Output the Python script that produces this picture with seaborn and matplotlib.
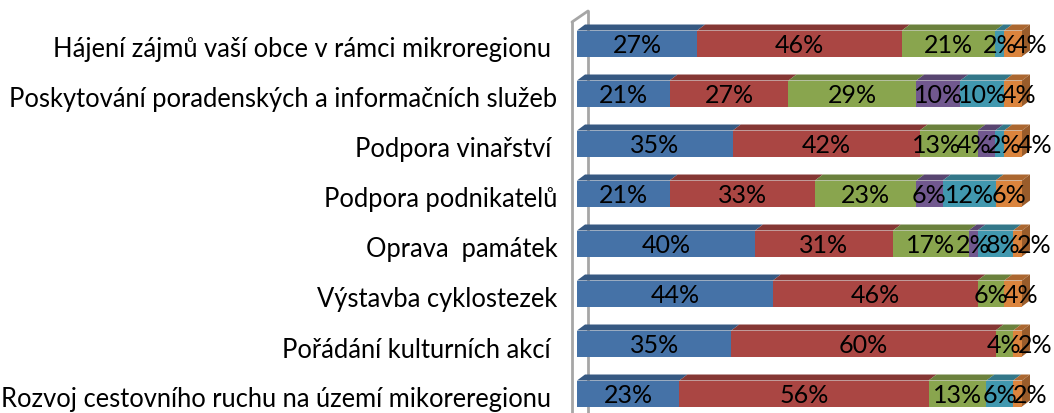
import numpy as np
import pandas as pd
import matplotlib
matplotlib.use("Agg")
import matplotlib.pyplot as plt
import matplotlib.transforms as mtransforms
import seaborn as sns
from matplotlib.patches import Polygon
from matplotlib.colors import to_rgb

# Data (shares in %)
categories = [
    "Hájení zájmů vaší obce v rámci mikroregionu ",
    "Poskytování poradenských a informačních služeb",
    "Podpora vinařství ",
    "Podpora podnikatelů",
    "Oprava  památek",
    "Výstavba cyklostezek",
    "Pořádání kulturních akcí ",
    "Rozvoj cestovního ruchu na území mikoreregionu ",
]
s1 = [27, 21, 35, 21, 40, 44, 35, 23]
s2 = [46, 27, 42, 33, 31, 46, 60, 56]
s3 = [21, 29, 13, 23, 17, 6, 4, 13]
s4 = [0, 10, 4, 6, 2, 0, 0, 0]
s5 = [2, 10, 2, 12, 8, 0, 0, 6]
s6 = [4, 4, 4, 6, 2, 4, 2, 2]

colors = ["#4572A7", "#AA4643", "#89A54E", "#71588F", "#4198AF", "#DB843D"]

series = [s1, s2, s3, s4, s5, s6]
vals = np.array(series, dtype=float)
# 100% stacked
vals = vals / vals.sum(axis=0) * 100
cum = np.cumsum(vals, axis=0)
left = cum - vals

sns.set_style("white")
plt.rcParams["font.family"] = ["Lato", "DejaVu Sans"]

fig = plt.figure(figsize=(10.54, 4.14), dpi=100)
W, H = 1054, 414
x0, x1 = 577, 1022          # pixel extent of 0..100
y_top, row_px = 19.5, 50.0  # pixel of y=-0.5, pixels per row
ax = fig.add_axes([x0 / W, 0, (x1 - x0) / W, (H - y_top) / H])

bar_h = 0.52
# draw from the full stack down so earlier segments sit on top
for j in range(len(series) - 1, -1, -1):
    df = pd.DataFrame({"cat": categories, "val": cum[j]})
    sns.barplot(data=df, x="val", y="cat", order=categories, orient="h",
                color=colors[j], saturation=1, width=bar_h, ax=ax,
                linewidth=0, zorder=3)

ax.set_xlim(0, 100)
ylow = -0.5 + (H - y_top) / row_px
ax.set_ylim(ylow, -0.5)

# 3D look: top faces and right-side faces
dx = 8 * 100 / (x1 - x0)
dy = 6 / row_px


def shade(c, f):
    r, g, b = to_rgb(c)
    return (r * f, g * f, b * f)


for i in range(len(categories)):
    yt = i - bar_h / 2
    yb = i + bar_h / 2
    for j in range(len(series)):
        if vals[j, i] <= 0:
            continue
        l, r = left[j, i], cum[j, i]
        ax.add_patch(Polygon([(l, yt), (r, yt), (r + dx, yt - dy), (l + dx, yt - dy)],
                             closed=True, facecolor=shade(colors[j], 0.78),
                             edgecolor="none", zorder=4, clip_on=False))
    last = max(j for j in range(len(series)) if vals[j, i] > 0)
    r = cum[last, i]
    ax.add_patch(Polygon([(r, yt), (r + dx, yt - dy), (r + dx, yb - dy), (r, yb)],
                         closed=True, facecolor=shade(colors[last], 0.7),
                         edgecolor="none", zorder=4, clip_on=False))

# percentage labels, centred on segments, then nudged apart so they don't collide
row_texts = []
for i in range(len(categories)):
    texts = []
    for j in range(len(series)):
        v = series[j][i]
        if v <= 0:
            continue
        t = ax.text(left[j, i] + vals[j, i] / 2, i + 0.02, f"{v}%",
                    ha="center", va="center", fontsize=18, color="black",
                    zorder=6, clip_on=False)
        texts.append(t)
    row_texts.append(texts)

fig.canvas.draw()
renderer = fig.canvas.get_renderer()
px_to_x = 100 / (x1 - x0)
right_limit = (1050 - x0) * px_to_x
for texts in row_texts:
    widths = [t.get_window_extent(renderer).width * px_to_x * 0.88 for t in texts]
    starts = [t.get_position()[0] - w / 2 for t, w in zip(texts, widths)]
    # forward pass: push right
    for k in range(1, len(texts)):
        starts[k] = max(starts[k], starts[k - 1] + widths[k - 1])
    # backward pass: keep inside the figure, push left
    limit = right_limit
    for k in range(len(texts) - 1, -1, -1):
        starts[k] = min(starts[k], limit - widths[k])
        limit = starts[k]
    for t, s, w in zip(texts, starts, widths):
        t.set_x(s + w / 2)

# left wall of the 3D plot
wall = "#A6A6A6"
fx = (572 - x0) * px_to_x
bx = (588 - x0) * px_to_x
fy = -0.5 + (23 - y_top) / row_px
by = -0.5 + (12 - y_top) / row_px
ax.plot([fx, fx], [fy, ylow], color=wall, lw=2, zorder=5, clip_on=False)
ax.plot([bx, bx], [by, ylow], color=wall, lw=2, zorder=1, clip_on=False)
ax.plot([fx, bx], [fy, by], color=wall, lw=2, zorder=5, clip_on=False)

ax.set_xlabel("")
ax.set_ylabel("")
ax.set_xticks([])
ax.tick_params(axis="y", length=0, pad=14, labelsize=18.4)
shift = mtransforms.ScaledTranslation(0, -3 / 100, fig.dpi_scale_trans)
for lab in ax.get_yticklabels():
    lab.set_color("black")
    lab.set_transform(lab.get_transform() + shift)
sns.despine(ax=ax, left=True, bottom=True)

fig.savefig("out.png", dpi=100)
